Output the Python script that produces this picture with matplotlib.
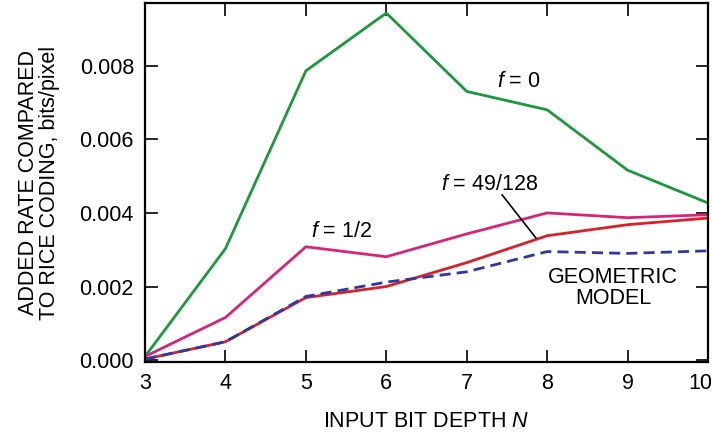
import numpy as np
import matplotlib.pyplot as plt
import matplotlib.transforms as mtransforms

plt.rcParams['font.family'] = ['Liberation Sans', 'DejaVu Sans']
plt.rcParams['mathtext.fontset'] = 'custom'
plt.rcParams['mathtext.it'] = 'Liberation Sans:italic'
plt.rcParams['mathtext.rm'] = 'Liberation Sans'

# Data
depth = [3, 4, 5, 6, 7, 8, 9, 10]
f_zero = [0.0001, 0.00303, 0.00786, 0.00943, 0.0073, 0.0068, 0.00516, 0.00427]
f_half = [0.0001, 0.00116, 0.00308, 0.00281, 0.00343, 0.0040, 0.00387, 0.00395]
f_49_128 = [0.00003, 0.0005, 0.0017, 0.0020, 0.00265, 0.00338, 0.00368, 0.00386]
geometric = [0.00003, 0.0005, 0.00173, 0.00212, 0.0024, 0.00295, 0.0029, 0.00297]

yticks = [0.000, 0.002, 0.004, 0.006, 0.008]

fs = 15.5

fig = plt.figure(figsize=(7.12, 4.38), dpi=100)
ax = fig.add_axes([0.2037, 0.1735, 0.7907, 0.8195])

ax.plot(depth, f_zero, color='#1a9a3a', lw=2)
ax.plot(depth, f_half, color='#d9237a', lw=2)
ax.plot(depth, f_49_128, color='#dc2027', lw=2)
ax.plot(depth, geometric, color='#2e38a8', lw=2, ls=(0, (4, 2.2)))

ax.set_xlim(3, 10)
ax.set_ylim(-0.00005, 0.0097)
ax.set_xticks(depth)
ax.set_yticks(yticks)
ax.set_yticklabels(['%.3f' % v for v in yticks])
ax.tick_params(direction='in', length=9, width=1.2, labelsize=fs,
               top=True, right=True, pad=8)
for s in ax.spines.values():
    s.set_linewidth(1.6)

# the last x label sits a little left so it stays inside the figure
fig.canvas.draw()
last = ax.get_xticklabels()[-1]
last.set_transform(last.get_transform() +
                   mtransforms.ScaledTranslation(-8 / 100, 0, fig.dpi_scale_trans))

ax.set_xlabel('INPUT BIT DEPTH $\\mathit{N}$', fontsize=fs, labelpad=12)
ax.set_ylabel('ADDED RATE COMPARED\nTO RICE CODING, bits/pixel',
              fontsize=fs, labelpad=14, linespacing=1.0)

ax.text(7.65, 0.00756, '$\\mathit{f}$ = 0', fontsize=fs, ha='center', va='center')
ax.text(5.45, 0.0035, '$\\mathit{f}$ = 1/2', fontsize=fs, ha='center', va='center')
ax.text(7.29, 0.00477, '$\\mathit{f}$ = 49/128', fontsize=fs, ha='center', va='center')
ax.plot([7.44, 7.86], [0.00449, 0.00332], color='black', lw=1.2)
ax.text(8.82, 0.00197, 'GEOMETRIC\nMODEL', fontsize=fs, ha='center', va='center',
        linespacing=1.0)

fig.savefig('out.png', dpi=100)
